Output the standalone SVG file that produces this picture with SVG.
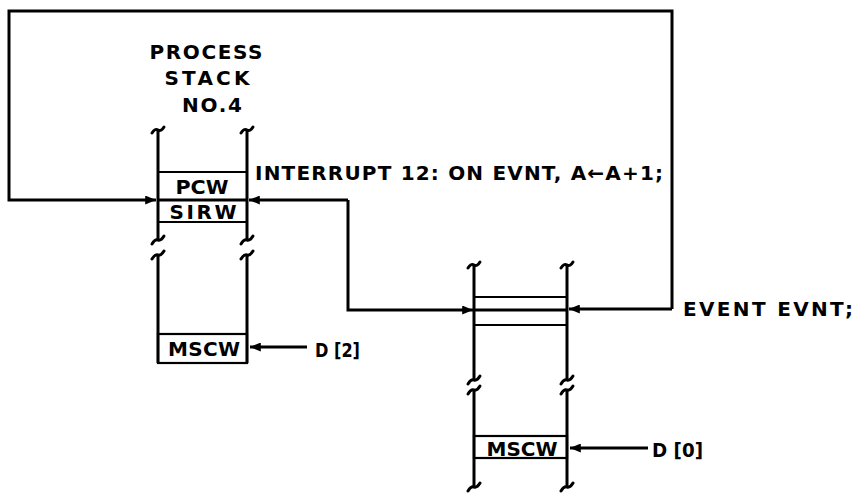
<svg xmlns="http://www.w3.org/2000/svg" width="858" height="493" viewBox="0 0 858 493">
<defs>
<style>
.ln{stroke:#000;stroke-width:3;fill:none;stroke-linejoin:miter}
.th{stroke:#000;stroke-width:2.2;fill:none}
.sq{stroke:#000;stroke-width:3;fill:none;stroke-linecap:round}
.tx{font-family:"DejaVu Sans","Liberation Sans",Arial,sans-serif;font-weight:bold;font-size:20px;fill:#000}
</style>
<marker id="ah" viewBox="0 0 12 10" refX="12" refY="5" markerWidth="4.5" markerHeight="3" orient="auto" markerUnits="strokeWidth">
<path d="M0,0 L12,5 L0,10 Z" fill="#000"/>
</marker>
</defs>
<rect width="858" height="493" fill="#fff"/>

<g id="connectors">
<path class="ln" d="M672,309 L672,11 L9,11 L9,200 L156,200" marker-end="url(#ah)"/>
<path class="ln" d="M672,309 L569,309" marker-end="url(#ah)"/>
<path class="ln" d="M348,200 L249,200" marker-end="url(#ah)"/>
<path class="ln" d="M348,200 L348,310 L473,310" marker-end="url(#ah)"/>
<path class="ln" d="M307,347 L250,347" marker-end="url(#ah)"/>
<path class="ln" d="M648,448 L570,448" marker-end="url(#ah)"/>
</g>

<g id="stack4">
<text class="tx" x="206" y="59" text-anchor="middle" textLength="113" lengthAdjust="spacing">PROCESS</text>
<text class="tx" x="207" y="85" text-anchor="middle" textLength="85" lengthAdjust="spacing">STACK</text>
<text class="tx" x="212" y="112" text-anchor="middle" textLength="60" lengthAdjust="spacing">NO.4</text>
<path class="ln" d="M158,131 L158,240 M247,131 L247,240 M158,256 L158,363 M247,256 L247,363"/>
<path class="sq" d="M152,133 Q155,128 158,130 Q161,132 164,127"/>
<path class="sq" d="M241,133 Q244,128 247,130 Q250,132 253,127"/>
<path class="sq" d="M152,244 Q155,239 158,240 Q161,241 164,236"/>
<path class="sq" d="M241,244 Q244,239 247,240 Q250,241 253,236"/>
<path class="sq" d="M152,259 Q155,254 158,255 Q161,256 164,251"/>
<path class="sq" d="M241,259 Q244,254 247,255 Q250,256 253,251"/>
<path class="th" d="M158,172 L247,172 M158,222 L247,222"/>
<path class="ln" d="M158,200 L247,200"/>
<text class="tx" x="202" y="194" text-anchor="middle" textLength="53" lengthAdjust="spacingAndGlyphs" font-size="18">PCW</text>
<text class="tx" x="203" y="219" text-anchor="middle" textLength="67" lengthAdjust="spacing" font-size="18">SIRW</text>
<rect class="th" x="158" y="334" width="89" height="29"/>
<text class="tx" x="204" y="356" text-anchor="middle" textLength="72" lengthAdjust="spacing" font-size="18">MSCW</text>
</g>

<g id="label-interrupt">
<text class="tx" x="255" y="180" textLength="408" lengthAdjust="spacing" font-size="19.5">INTERRUPT 12: ON EVNT, A←A+1;</text>
</g>

<g id="label-d2">
<text class="tx" x="315" y="357" textLength="45" lengthAdjust="spacingAndGlyphs" font-size="21">D [2]</text>
</g>

<g id="stack0">
<path class="ln" d="M474,266 L474,380 M567,266 L567,380 M474,391 L474,487 M567,391 L567,487"/>
<path class="sq" d="M468,268 Q471,263 474,265 Q477,267 480,262"/>
<path class="sq" d="M561,268 Q564,263 567,265 Q570,267 573,262"/>
<path class="sq" d="M468,384 Q471,379 474,380 Q477,381 480,376"/>
<path class="sq" d="M561,384 Q564,379 567,380 Q570,381 573,376"/>
<path class="sq" d="M468,394 Q471,389 474,390 Q477,391 480,386"/>
<path class="sq" d="M561,394 Q564,389 567,390 Q570,391 573,386"/>
<path class="sq" d="M468,491 Q471,486 474,487 Q477,488 480,483"/>
<path class="sq" d="M561,491 Q564,486 567,487 Q570,488 573,483"/>
<path class="th" d="M474,297 L567,297 M474,325 L567,325"/>
<path class="ln" d="M474,310 L567,310"/>
<rect class="th" x="474" y="436" width="93" height="22"/>
<text class="tx" x="522" y="456" text-anchor="middle" textLength="71" lengthAdjust="spacing" font-size="18">MSCW</text>
</g>

<g id="label-d0">
<text class="tx" x="652" y="457" textLength="51" lengthAdjust="spacingAndGlyphs" font-size="21">D [0]</text>
</g>

<g id="label-event">
<text class="tx" x="683" y="316" textLength="170" lengthAdjust="spacing">EVENT EVNT;</text>
</g>
</svg>
